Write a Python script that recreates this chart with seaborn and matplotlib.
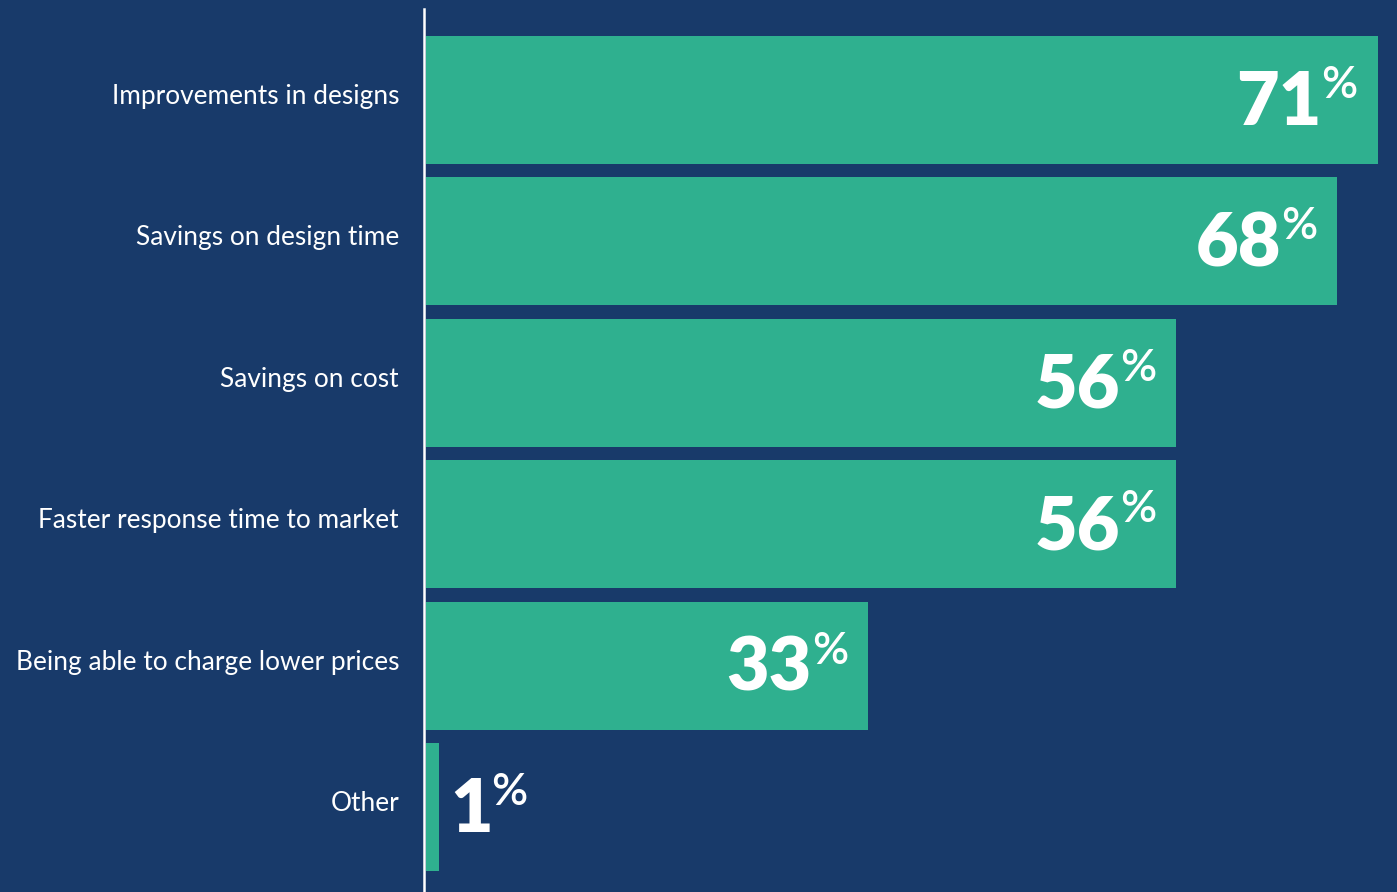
import matplotlib
matplotlib.use("Agg")
import matplotlib.pyplot as plt
import matplotlib.transforms as mtrans
import seaborn as sns
import pandas as pd

categories = ["Improvements in designs", "Savings on design time", "Savings on cost",
              "Faster response time to market", "Being able to charge lower prices", "Other"]
values = [71, 68, 56, 56, 33, 1]

BG = "#183A6A"
BAR = "#2FB08F"

sns.set_theme(style="white")
plt.rcParams["font.family"] = ["Lato", "DejaVu Sans"]

DPI = 100
fig = plt.figure(figsize=(13.97, 8.92), dpi=DPI, facecolor=BG)
ax = fig.add_axes([424 / 1397, 0, 1 - 424 / 1397, (892 - 9) / 892])
ax.set_facecolor(BG)

df = pd.DataFrame({"category": categories, "value": values})
sns.barplot(data=df, x="value", y="category", orient="h", color=BAR,
            saturation=1, width=0.905, linewidth=0, edgecolor="none", ax=ax)

ax.set_xlim(-0.12, 72.45)
ax.set_ylim(5.6, -0.64)
ax.set_xlabel("")
ax.set_ylabel("")
ax.set_xticks([])
for s in ["top", "right", "bottom"]:
    ax.spines[s].set_visible(False)
ax.spines["left"].set_color("white")
ax.spines["left"].set_linewidth(1.8)
ax.tick_params(axis="y", length=0, pad=18, labelsize=18.95, labelcolor="white")
shift = mtrans.ScaledTranslation(0, 6 / DPI, fig.dpi_scale_trans)
for lab in ax.get_yticklabels():
    lab.set_transform(lab.get_transform() + shift)

for i, v in enumerate(values):
    if v >= 10:
        pct = ax.annotate("%", xy=(v, i), xytext=(-20, 2), textcoords="offset pixels",
                          ha="right", va="baseline", color="white", fontsize=32,
                          fontweight="semibold")
        ax.annotate(str(v), xy=(0, i), xycoords=(pct, "data"), xytext=(0, -25),
                    textcoords="offset pixels", ha="right", va="baseline",
                    color="white", fontsize=53, fontweight="heavy")
    else:
        num = ax.annotate(str(v), xy=(v, i), xytext=(11, -25), textcoords="offset pixels",
                          ha="left", va="baseline", color="white", fontsize=53,
                          fontweight="heavy")
        ax.annotate("%", xy=(1, i), xycoords=(num, "data"), xytext=(-2, 2),
                    textcoords="offset pixels", ha="left", va="baseline",
                    color="white", fontsize=32, fontweight="semibold")

fig.savefig("out.png", dpi=DPI, facecolor=BG)
